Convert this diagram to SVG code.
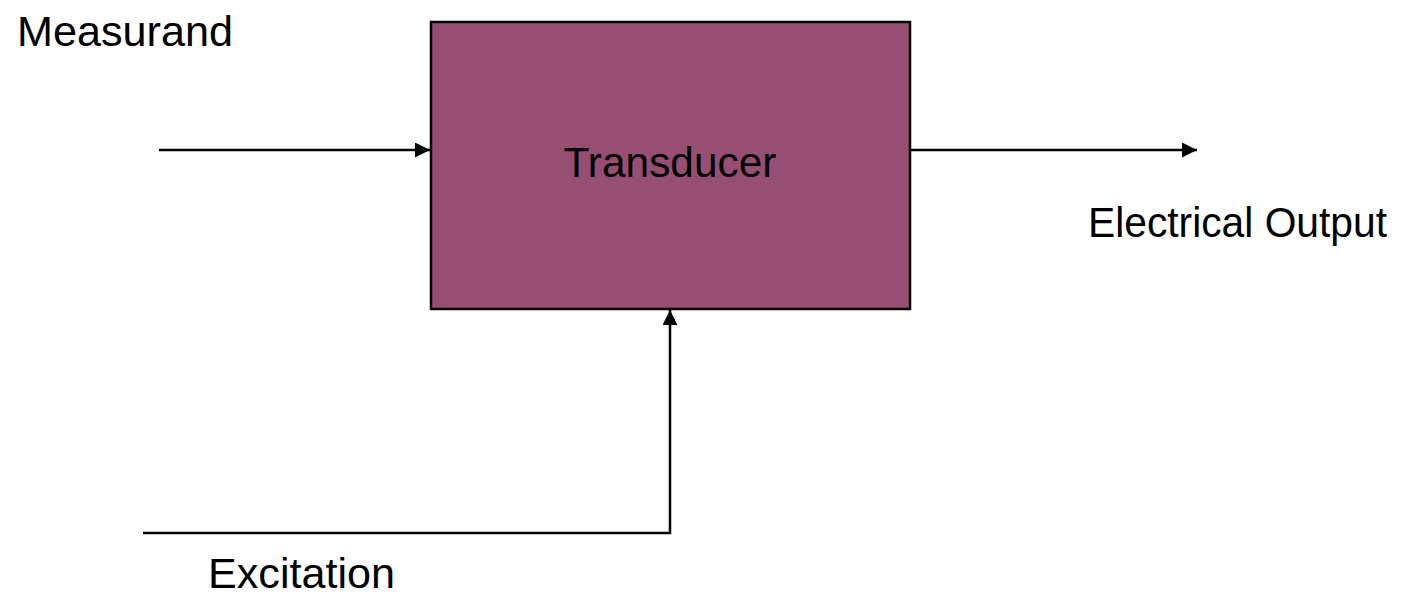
<svg xmlns="http://www.w3.org/2000/svg" width="1421" height="596" viewBox="0 0 1421 596">
<style>
text{font-family:"Liberation Sans",Arial,sans-serif;font-size:43px;fill:#000}
.ln{stroke:#000;stroke-width:2.5;fill:none}
</style>
<defs>
<marker id="ah" viewBox="0 0 10 10" refX="10" refY="5" markerWidth="6" markerHeight="6" orient="auto" markerUnits="strokeWidth">
<path d="M0,0 L10,5 L0,10 z" fill="#000"/>
</marker>
</defs>
<rect width="1421" height="596" fill="#fff"/>
<g id="transducer">
<rect x="431" y="22" width="479" height="287" fill="#964F73" stroke="#000" stroke-width="2.5"/>
<text x="670" y="177" text-anchor="middle" textLength="213" lengthAdjust="spacingAndGlyphs">Transducer</text>
</g>
<g id="labels">
<text x="17" y="46" textLength="216" lengthAdjust="spacingAndGlyphs">Measurand</text>
<text x="1088" y="237" textLength="299" lengthAdjust="spacingAndGlyphs">Electrical Output</text>
<text x="208" y="588" textLength="187" lengthAdjust="spacingAndGlyphs">Excitation</text>
</g>
<g id="connectors">
<line class="ln" x1="159" y1="150" x2="430" y2="150" marker-end="url(#ah)"/>
<line class="ln" x1="911" y1="150" x2="1197" y2="150" marker-end="url(#ah)"/>
<polyline class="ln" points="143,533 670,533 670,310" marker-end="url(#ah)"/>
</g>
</svg>
